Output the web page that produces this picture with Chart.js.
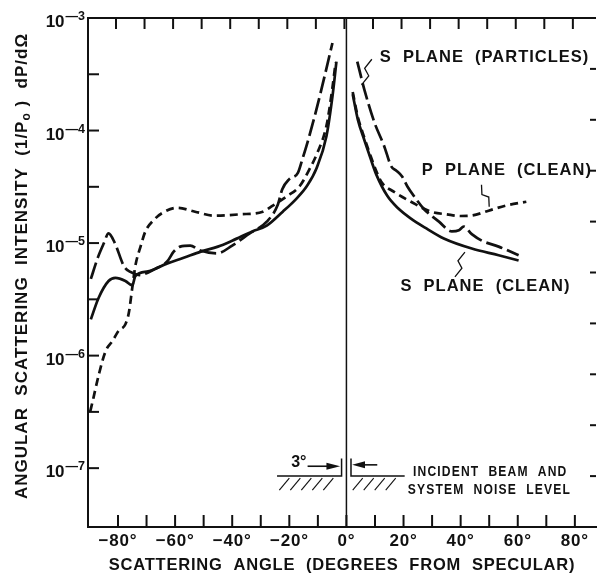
<!DOCTYPE html>
<html>
<head>
<meta charset="utf-8">
<script src="https://cdn.jsdelivr.net/npm/chart.js@4.4.0/dist/chart.umd.min.js"></script>
<style>
  html, body { margin: 0; padding: 0; background: #fff; }
  #wrap { width: 597px; height: 574px; }
</style>
</head>
<body>
<div id="wrap"><canvas id="myChart"></canvas></div>
<script>
// scattering angle (degrees from specular) and intensity (1/Po) dP/dOmega
var sPartLeftAng = [-89.5, -87, -85, -83.3, -81.1, -78, -76.5, -74.6, -72.5, -67, -62.7, -60.5, -58.2, -54.7, -51.2, -45.3, -40, -34, -27.9, -24, -22.5, -20, -17, -15.3, -13.6, -10.5, -7.7, -4.9];
var sPartLeftVal = [4.8e-6, 7.5e-6, 9.9e-6, 1.22e-5, 1.0e-5, 6.3e-6, 5.7e-6, 5.4e-6, 5.2e-6, 5.9e-6, 6.9e-6, 8.4e-6, 9.3e-6, 9.5e-6, 8.6e-6, 8.1e-6, 9.5e-6, 1.21e-5, 1.55e-5, 2.2e-5, 3.0e-5, 3.7e-5, 4.2e-5, 5.7e-5, 7.9e-5, 1.54e-4, 3.0e-4, 6.0e-4];
var sPartRightAng = [3.8, 6.3, 9.8, 13.2, 15.7, 17.5, 19.5, 21.3, 23.7, 27.2, 32.4, 36.9, 39.4, 41.1, 43.9, 47.4, 53.3, 60.3];
var sPartRightVal = [4.1e-4, 2.3e-4, 1.18e-4, 7.3e-5, 4.8e-5, 4.4e-5, 3.9e-5, 3.2e-5, 2.6e-5, 2.0e-5, 1.55e-5, 1.27e-5, 1.3e-5, 1.4e-5, 1.2e-5, 1.05e-5, 9.3e-6, 7.8e-6];

var sCleanLeftAng = [-89.5, -86.8, -83.3, -80.9, -77.4, -75, -73.9, -69.4, -62.7, -57, -51, -45, -40, -33, -27.9, -22.3, -17.4, -13.9, -10.5, -7, -4.9, -3.5];
var sCleanLeftVal = [2.1e-6, 3.25e-6, 4.6e-6, 4.9e-6, 4.6e-6, 4.2e-6, 5.1e-6, 5.6e-6, 6.6e-6, 7.4e-6, 8.4e-6, 9.3e-6, 1.05e-5, 1.27e-5, 1.43e-5, 1.9e-5, 2.5e-5, 3.2e-5, 4.6e-5, 8.9e-5, 2.0e-4, 4.1e-4];
var sCleanRightAng = [2.2, 4, 6.3, 8.5, 10.4, 14.3, 18, 22.6, 28, 34.1, 43.9, 53.3, 60.3];
var sCleanRightVal = [2.1e-4, 1.25e-4, 8.2e-5, 5.6e-5, 4.1e-5, 2.63e-5, 2.05e-5, 1.65e-5, 1.35e-5, 1.1e-5, 8.95e-6, 7.8e-6, 7.0e-6];

var pCleanLeftAng = [-89.7, -88.8, -86.7, -84.3, -81.9, -79.8, -77.4, -76.2, -75, -73.9, -72, -70.4, -67.5, -64.5, -59.2, -53, -46, -37.3, -29.3, -25.8, -20.9, -16.4, -12.8, -10, -7, -5, -3.8];
var pCleanLeftVal = [3.2e-7, 4.0e-7, 6.8e-7, 1.1e-6, 1.35e-6, 1.66e-6, 1.9e-6, 2.4e-6, 4.0e-6, 6.3e-6, 9.5e-6, 1.27e-5, 1.6e-5, 1.85e-5, 2.06e-5, 1.9e-5, 1.75e-5, 1.8e-5, 1.9e-5, 2.15e-5, 2.6e-5, 3.2e-5, 4.6e-5, 6.5e-5, 1.1e-4, 2.3e-4, 4.0e-4];
var pCleanRightAng = [2.2, 4, 6.3, 8.5, 10.4, 12.2, 16.7, 22.6, 29.6, 35.2, 40, 44, 49.8, 55.7, 63];
var pCleanRightVal = [2.2e-4, 1.32e-4, 8.6e-5, 5.9e-5, 4.4e-5, 3.5e-5, 2.85e-5, 2.33e-5, 1.9e-5, 1.8e-5, 1.74e-5, 1.76e-5, 1.94e-5, 2.15e-5, 2.33e-5];

// axis ticks
var xTicks = [-80, -70, -60, -50, -40, -30, -20, -10, 0, 10, 20, 30, 40, 50, 60, 70, 80];
var yExps = [-7, -6.5, -6, -5.5, -5, -4.5, -4, -3.5, -3];
var rightTicks = [1, 2, 3, 4, 5, 6, 7, 8, 9];

var FONT = "'Liberation Sans', Arial, Helvetica, sans-serif";
var INK = '#111';

function pts(angles, vals) {
  return angles.map(function (a, i) { return { x: a, y: vals[i] }; });
}

function series(data, dash) {
  return {
    data: data,
    borderColor: INK,
    borderWidth: 2.7,
    borderDash: dash,
    borderCapStyle: 'butt',
    pointRadius: 0,
    fill: false,
    cubicInterpolationMode: 'monotone'
  };
}

function line(ctx, x1, y1, x2, y2) {
  ctx.beginPath();
  ctx.moveTo(x1, y1);
  ctx.lineTo(x2, y2);
  ctx.stroke();
}

var paper = {
  id: 'paper',
  beforeDraw: function (chart) {
    chart.ctx.letterSpacing = '0.8px';
  },
  afterDraw: function (chart) {
    var ctx = chart.ctx, a = chart.chartArea;
    var xs = chart.scales.x, ys = chart.scales.y, yr = chart.scales.yR;
    var px = function (v) { return xs.getPixelForValue(v); };
    var py = function (v) { return ys.getPixelForValue(v); };
    ctx.save();
    ctx.strokeStyle = INK;
    ctx.fillStyle = INK;
    ctx.lineCap = 'butt';

    // top frame and inward ticks
    ctx.lineWidth = 2;
    line(ctx, a.left - 1, a.top, a.right, a.top);
    xTicks.forEach(function (v) {
      line(ctx, px(v), a.bottom, px(v), a.bottom - 12);
      line(ctx, px(v) - 2, a.top, px(v) - 2, a.top + 11);
    });
    yExps.forEach(function (e) {
      line(ctx, a.left, py(Math.pow(10, e)), a.left + 11, py(Math.pow(10, e)));
    });
    rightTicks.forEach(function (v) {
      line(ctx, a.right, yr.getPixelForValue(v), a.right - 6, yr.getPixelForValue(v));
    });

    // specular line
    ctx.lineWidth = 1.5;
    line(ctx, px(0), a.top, px(0), a.bottom);

    // y tick labels 10^n
    ctx.letterSpacing = '0px';
    ctx.textAlign = 'left';
    ctx.textBaseline = 'alphabetic';
    yExps.forEach(function (e) {
      if (e % 1 !== 0) return;
      var y = py(Math.pow(10, e));
      ctx.font = 'bold 12.5px ' + FONT;
      var sup = '\u2014' + Math.abs(e);
      var ws = ctx.measureText(sup).width;
      ctx.font = 'bold 17px ' + FONT;
      var wb = ctx.measureText('10').width;
      var right = a.left - 3;
      ctx.fillText('10', right - ws - wb - 1, y + 9);
      ctx.font = 'bold 12.5px ' + FONT;
      ctx.fillText(sup, right - ws, y + 2);
    });

    // y axis title
    ctx.save();
    ctx.translate(22, 266);
    ctx.rotate(-Math.PI / 2);
    ctx.letterSpacing = '1px';
    ctx.textBaseline = 'middle';
    var parts = [
      { t: 'ANGULAR  SCATTERING  INTENSITY  (1/P', s: 17, dy: 0 },
      { t: 'o', s: 12, dy: 5 },
      { t: ' )  dP/d\u03A9', s: 17, dy: 0 }
    ];
    var total = 0;
    parts.forEach(function (p) { ctx.font = 'bold ' + p.s + 'px ' + FONT; p.w = ctx.measureText(p.t).width; total += p.w; });
    var cx = -total / 2;
    parts.forEach(function (p) { ctx.font = 'bold ' + p.s + 'px ' + FONT; ctx.fillText(p.t, cx, p.dy); cx += p.w; });
    ctx.restore();

    // curve labels
    ctx.letterSpacing = '1px';
    ctx.textBaseline = 'middle';
    ctx.textAlign = 'left';
    ctx.font = 'bold 16.5px ' + FONT;
    ctx.fillText('S  PLANE  (PARTICLES)', px(11.7), py(4.5e-4));
    ctx.fillText('P  PLANE  (CLEAN)', px(26.4), py(4.4e-5));
    ctx.fillText('S  PLANE  (CLEAN)', px(18.9), py(4.1e-6));

    // leaders
    ctx.lineWidth = 1.3;
    var zig = function (x0, y0, x1, y1) {
      var mx = (x0 + x1) / 2, my = (y0 + y1) / 2;
      var dx = x1 - x0, dy = y1 - y0;
      ctx.beginPath();
      ctx.moveTo(x0, y0);
      ctx.lineTo(mx - dx * 0.1 - dy * 0.12, my - dy * 0.1 + dx * 0.12);
      ctx.lineTo(mx + dx * 0.1 + dy * 0.12, my + dy * 0.1 - dx * 0.12);
      ctx.lineTo(x1, y1);
      ctx.stroke();
    };
    zig(px(5.3), py(2.55e-4), px(8.9), py(4.3e-4));
    zig(px(47.3), py(3.3e-5), px(50.0), py(2.1e-5));
    zig(px(41.5), py(8.3e-6), px(38.0), py(5.0e-6));

    // incident beam and system noise level
    var noise = 8.5e-8, markTop = 1.22e-7;
    ctx.lineWidth = 1.5;
    ctx.beginPath();
    ctx.moveTo(px(-24.3), py(noise));
    ctx.lineTo(px(-1.7), py(noise));
    ctx.lineTo(px(-1.7), py(markTop));
    ctx.moveTo(px(1.6), py(markTop));
    ctx.lineTo(px(1.6), py(noise));
    ctx.lineTo(px(20.4), py(noise));
    ctx.stroke();

    ctx.lineWidth = 1.1;
    var hatch = function (from, to) {
      var y0 = py(noise) + 2;
      for (var x = px(from); x + 10 <= px(to) + 1; x += 11) {
        line(ctx, x, y0 + 12, x + 10, y0);
      }
    };
    hatch(-23.5, -2.2);
    hatch(2.2, 19.5);

    // arrows for the 3 deg beam width
    var ay1 = py(1.04e-7), ay2 = py(1.07e-7);
    ctx.lineWidth = 1.6;
    line(ctx, px(-13.6), ay1, px(-6.5), ay1);
    line(ctx, px(10.8), ay2, px(5.5), ay2);
    ctx.beginPath();
    ctx.moveTo(px(-2.2), ay1);
    ctx.lineTo(px(-7.0), ay1 - 3.5);
    ctx.lineTo(px(-7.0), ay1 + 3.5);
    ctx.closePath();
    ctx.fill();
    ctx.beginPath();
    ctx.moveTo(px(2.0), ay2);
    ctx.lineTo(px(6.5), ay2 - 3.5);
    ctx.lineTo(px(6.5), ay2 + 3.5);
    ctx.closePath();
    ctx.fill();

    ctx.textAlign = 'right';
    ctx.letterSpacing = '0px';
    ctx.font = 'bold 16px ' + FONT;
    ctx.fillText('3\u00B0', px(-14.0), py(1.13e-7));

    ctx.textAlign = 'left';
    ctx.letterSpacing = '1.5px';
    ctx.font = 'bold 15.5px ' + FONT;
    [['INCIDENT  BEAM  AND', 23.3, 9.25e-8], ['SYSTEM  NOISE  LEVEL', 21.5, 6.4e-8]].forEach(function (n) {
      ctx.save();
      ctx.translate(px(n[1]), py(n[2]));
      ctx.scale(0.78, 1);
      ctx.fillText(n[0], 0, 0);
      ctx.restore();
    });

    ctx.restore();
  }
};

var chart = new Chart(document.getElementById('myChart'), {
  type: 'line',
  data: {
    datasets: [
      series(pts(sPartLeftAng, sPartLeftVal), [17, 5]),
      series(pts(sPartRightAng, sPartRightVal), [17, 5]),
      series(pts(sCleanLeftAng, sCleanLeftVal), []),
      series(pts(sCleanRightAng, sCleanRightVal), []),
      series(pts(pCleanLeftAng, pCleanLeftVal), [8, 5]),
      series(pts(pCleanRightAng, pCleanRightVal), [8, 5])
    ]
  },
  options: {
    responsive: true,
    maintainAspectRatio: false,
    animation: false,
    layout: { padding: { top: 18, right: 1, left: 0, bottom: 0 } },
    scales: {
      x: {
        type: 'linear',
        min: -90.5,
        max: 87.4,
        afterBuildTicks: function (s) {
          s.ticks = xTicks.map(function (v) { return { value: v }; });
        },
        afterFit: function (s) { s.height = 47; },
        grid: { display: false, drawTicks: false },
        border: { display: true, width: 2, color: INK },
        ticks: {
          autoSkip: false,
          maxRotation: 0,
          padding: 4,
          color: INK,
          font: { family: FONT, size: 17, weight: 'bold' },
          callback: function (v) {
            if (v % 20 !== 0) return '';
            return (v < 0 ? '\u2212' : '') + Math.abs(v) + '\u00B0';
          }
        },
        title: {
          display: true,
          text: 'SCATTERING  ANGLE  (DEGREES  FROM  SPECULAR)',
          color: INK,
          padding: 0,
          font: { family: FONT, size: 16.5, weight: 'bold', lineHeight: 1 }
        }
      },
      y: {
        type: 'logarithmic',
        min: Math.pow(10, -7.5),
        max: 1e-3,
        afterBuildTicks: function (s) {
          s.ticks = yExps.map(function (e) { return { value: Math.pow(10, e) }; });
        },
        afterFit: function (s) { s.width = 88; },
        grid: { display: false, drawTicks: false },
        border: { display: true, width: 2, color: INK },
        ticks: { display: false }
      },
      yR: {
        type: 'linear',
        position: 'right',
        min: 0,
        max: 10,
        display: false
      }
    },
    plugins: {
      legend: { display: false },
      tooltip: { enabled: false }
    }
  },
  plugins: [paper]
});
</script>
</body>
</html>
